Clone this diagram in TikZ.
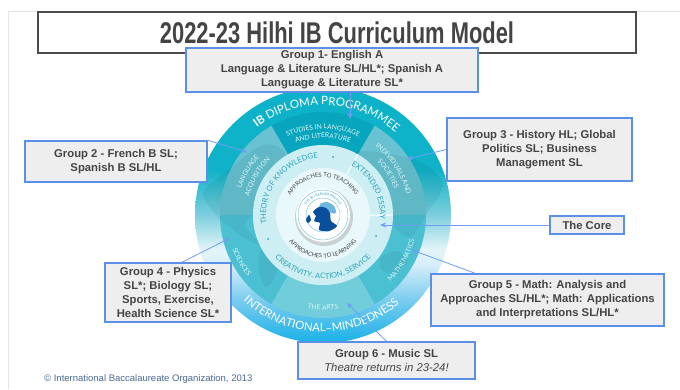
\documentclass[tikz,border=0pt]{standalone}
\usepackage{fontspec}
\setmainfont{Liberation Sans}
\newfontfamily\titlefont[FakeStretch=0.73]{Liberation Sans Bold}
\newfontfamily\ringfont{Lato}
\usetikzlibrary{decorations.text,arrows.meta,calc}
\definecolor{boxline}{HTML}{5B8FE8}
\definecolor{boxfill}{HTML}{EEEEEE}
\definecolor{ink}{HTML}{444444}
\definecolor{arrowc}{HTML}{6F9DF5}
\definecolor{sectop}{HTML}{08A6BE}
\definecolor{secside}{HTML}{68C2D1}
\definecolor{seclow}{HTML}{4CC0D3}
\definecolor{secarts}{HTML}{71CDD9}
\definecolor{corec}{HTML}{CDEEF3}
\definecolor{coreinner}{HTML}{E9F8FA}
\definecolor{coretext}{HTML}{2AA5BD}
\definecolor{pale}{HTML}{DDF3F6}
\definecolor{copyc}{HTML}{4A6A96}
\definecolor{headlight}{HTML}{6FB6E3}
\definecolor{headdark}{HTML}{0A4F9C}
\definecolor{sA}{HTML}{18B1E8}
\definecolor{sB}{HTML}{7ACCEE}
\definecolor{sC}{HTML}{D5EEFA}
\definecolor{sD}{HTML}{E4F5F8}
\definecolor{sE}{HTML}{7DCFDD}
\definecolor{sF}{HTML}{10B2C9}
\definecolor{sG}{HTML}{0CB2C9}
\pgfdeclareverticalshading{outerring}{100bp}{
 color(0bp)=(sA);
 color(25bp)=(sA);
 color(33.4bp)=(sB);
 color(40.2bp)=(sC);
 color(43.2bp)=(sD);
 color(50bp)=(sE);
 color(58.8bp)=(sF);
 color(75bp)=(sG);
 color(100bp)=(sG)}
\newcommand\ringcw[4]{\path[decorate,decoration={text along path,text align=center,text={|\ringfont\fontsize{#3}{#3}\selectfont #4}}] (#2+90:#1) arc[start angle=#2+90,end angle=#2-90,radius=#1];}
\newcommand\ringccw[4]{\path[decorate,decoration={text along path,text align=center,text={|\ringfont\fontsize{#3}{#3}\selectfont #4}}] (#2-90:#1) arc[start angle=#2-90,end angle=#2+90,radius=#1];}
\newcommand\sectorwedge[3]{\fill[#3] (#1:70) arc[start angle=#1,end angle=#2,radius=70] -- (#2:103) arc[start angle=#2,end angle=#1,radius=103] -- cycle;}
\tikzset{
 box/.style={draw=boxline,line width=1.5pt,fill=boxfill,text=ink,align=center,inner sep=0pt,font=\fontsize{11.3}{14}\selectfont\bfseries},
 link/.style={draw=arrowc,line width=0.8pt,-{Stealth[length=6pt,width=5pt]}},
 land/.style={fill=black!55!teal,opacity=0.07}
}
\begin{document}
\begin{tikzpicture}[x=1pt,y=1pt]
\useasboundingbox (0,0) rectangle (680,389);
\fill[white] (0,0) rectangle (680,389);
\draw[black!10,line width=0.8pt] (8,0) -- (8,378) -- (680,378);
\node[draw=black!70,line width=1.5pt,fill=white,minimum width=598pt,minimum height=41pt,inner sep=0pt,text=ink,font=\titlefont\fontsize{30}{30}\selectfont] (title) at (337,356.5) {2022-23 Hilhi IB Curriculum Model};
\begin{scope}[shift={(323,174)}]
 \shade[shading=outerring] (0,0) circle[radius=128];
 \sectorwedge{60}{120}{sectop}
 \sectorwedge{120}{180}{secside}
 \sectorwedge{0}{60}{secside}
 \sectorwedge{180}{240}{seclow}
 \sectorwedge{300}{360}{seclow}
 \sectorwedge{240}{300}{secarts}
 \begin{scope}
  \clip (0,0) circle[radius=128];
  \fill[land] plot[smooth cycle] coordinates {(-120,22) (-95,45) (-60,70) (-38,62) (-45,30) (-62,8) (-78,-10) (-62,-30) (-80,-22) (-105,-2)};
  \fill[land] plot[smooth cycle] coordinates {(-62,-35) (-44,-40) (-48,-62) (-58,-72) (-64,-55)};
  \fill[land] plot[smooth cycle] coordinates {(30,62) (60,62) (100,52) (120,30) (104,2) (88,-22) (72,-12) (60,20) (38,35)};
  \fill[land] plot[smooth cycle] coordinates {(58,-42) (75,-36) (84,-48) (70,-58) (58,-54)};
 \end{scope}
 \fill[corec] (0,0) circle[radius=70];
 \fill[coreinner] (0,0) circle[radius=47];
 \draw[white,line width=1pt] (60:47) -- (60:70) (0:47) -- (0:70);
 \foreach \dx/\dy in {10/58,-55/-24,53/-21} \fill[coretext] (\dx,\dy) circle[radius=1];
 \fill[black!45,opacity=.35] (1,-2) circle[radius=29];
 \fill[white] (0,0) circle[radius=27];
 \draw[coretext!60,line width=.5pt] (0,0) circle[radius=25] (0,0) circle[radius=17];
 \fill[headlight] plot[smooth cycle] coordinates {(-3,11) (4,13) (11,9) (13,2) (8,2) (2,7) (-3,6)};
 \fill[headdark] plot[smooth cycle] coordinates {(-10,3) (-4,8) (3,7) (7,2) (8,-6) (14,-11) (6,-16) (-4,-15) (-3,-8) (-9,-6) (-7,-1)};
 \fill[headdark] plot[smooth cycle] coordinates {(-14,0) (-12,-5) (-15,-8) (-17,-5)};
 \ringcw{19.5}{90}{3.4}{\color{coretext}|THE IB LEARNER PROFILE}
 \path[decorate,decoration={text along path,text align=center,text={|\ringfont\fontsize{11.5}{11.5}\selectfont\color{white}\bfseries|IB|| |\ringfont\fontsize{11.5}{11.5}\selectfont\color{white}|DIPLOMA PROGRAMME||}}] (179.5:110) arc[start angle=179.5,end angle=-0.5,radius=110];
 \ringccw{117}{269}{11.4}{\color{white}|INTERNATIONAL–MINDEDNESS}
 \ringcw{86}{90}{6.7}{\color{pale}|STUDIES IN LANGUAGE}
 \ringcw{77}{90}{6.7}{\color{pale}|AND LITERATURE}
 \ringcw{86}{150}{6.7}{\color{pale}|LANGUAGE}
 \ringcw{76}{150}{6.7}{\color{pale}|ACQUISITION}
 \ringcw{86}{33}{6.7}{\color{pale}|INDIVIDUALS AND}
 \ringcw{76}{32}{6.7}{\color{pale}|SOCIETIES}
 \ringccw{97}{210}{6.7}{\color{pale}|SCIENCES}
 \ringccw{95}{330}{6.7}{\color{pale}|MATHEMATICS}
 \ringccw{95}{270}{6.7}{\color{pale}|THE ARTS}
 \ringcw{57}{142}{7.6}{\color{coretext}|THEORY OF KNOWLEDGE}
 \ringcw{57}{28}{7.6}{\color{coretext}|EXTENDED ESSAY}
 \ringccw{64}{270}{7.6}{\color{coretext}|CREATIVITY, ACTION, SERVICE}
 \ringcw{38}{90}{5.8}{\color{black!75}|APPROACHES TO TEACHING}
 \ringccw{43}{270}{5.8}{\color{black!75}|APPROACHES TO LEARNING}
\end{scope}
\coordinate (aStudies) at (350,270);
\coordinate (aLang) at (247,237);
\coordinate (aInd) at (407,230);
\coordinate (aSci) at (230,151);
\coordinate (aCore) at (380,164);
\coordinate (aMath) at (412,139);
\coordinate (aArts) at (347,86);
\coordinate (fromSci) at (182,126);
\coordinate (fromMath) at (475,115);
\node[box,minimum width=292pt,minimum height=44pt] (g1) at (332,319) {Group 1- English A\\Language \& Literature SL/HL*; Spanish A\\Language \& Literature SL*};
\node[box,minimum width=182pt,minimum height=41pt] (g2) at (116,227.5) {Group 2 - French B SL;\\Spanish B SL/HL};
\node[box,minimum width=185pt,minimum height=63pt] (g3) at (539.5,239.5) {Group 3 - History HL; Global\\Politics SL; Business\\Management SL};
\node[box,minimum width=126pt,minimum height=59pt] (g4) at (168,96.5) {Group 4 - Physics\\SL*; Biology SL;\\Sports, Exercise,\\Health Science SL*};
\node[box,minimum width=74pt,minimum height=18pt] (core) at (587,164) {The Core};
\node[box,minimum width=233pt,minimum height=52pt] (g5) at (547.5,89) {Group 5 - Math: Analysis and\\Approaches SL/HL*; Math: Applications\\and Interpretations SL/HL*};
\node[box,minimum width=177pt,minimum height=37pt] (g6) at (386.5,28.5) {Group 6 - Music SL\\{\mdseries\itshape Theatre returns in 23-24!}};
\node[inner sep=0pt,anchor=west,text=copyc,font=\fontsize{9.5}{10}\selectfont] (copy) at (44,10) {© International Baccalaureate Organization, 2013};
\draw[link] (g1.south -| aStudies) -- (aStudies);
\draw[link] (g2.north east) -- (aLang);
\draw[link] (g3.west) -- (aInd);
\draw[link] (g4.north -| fromSci) -- (aSci);
\draw[link] (core.west) -- (aCore);
\draw[link] (g5.north -| fromMath) -- (aMath);
\draw[link] (g6.north) -- (aArts);
\end{tikzpicture}
\end{document}
